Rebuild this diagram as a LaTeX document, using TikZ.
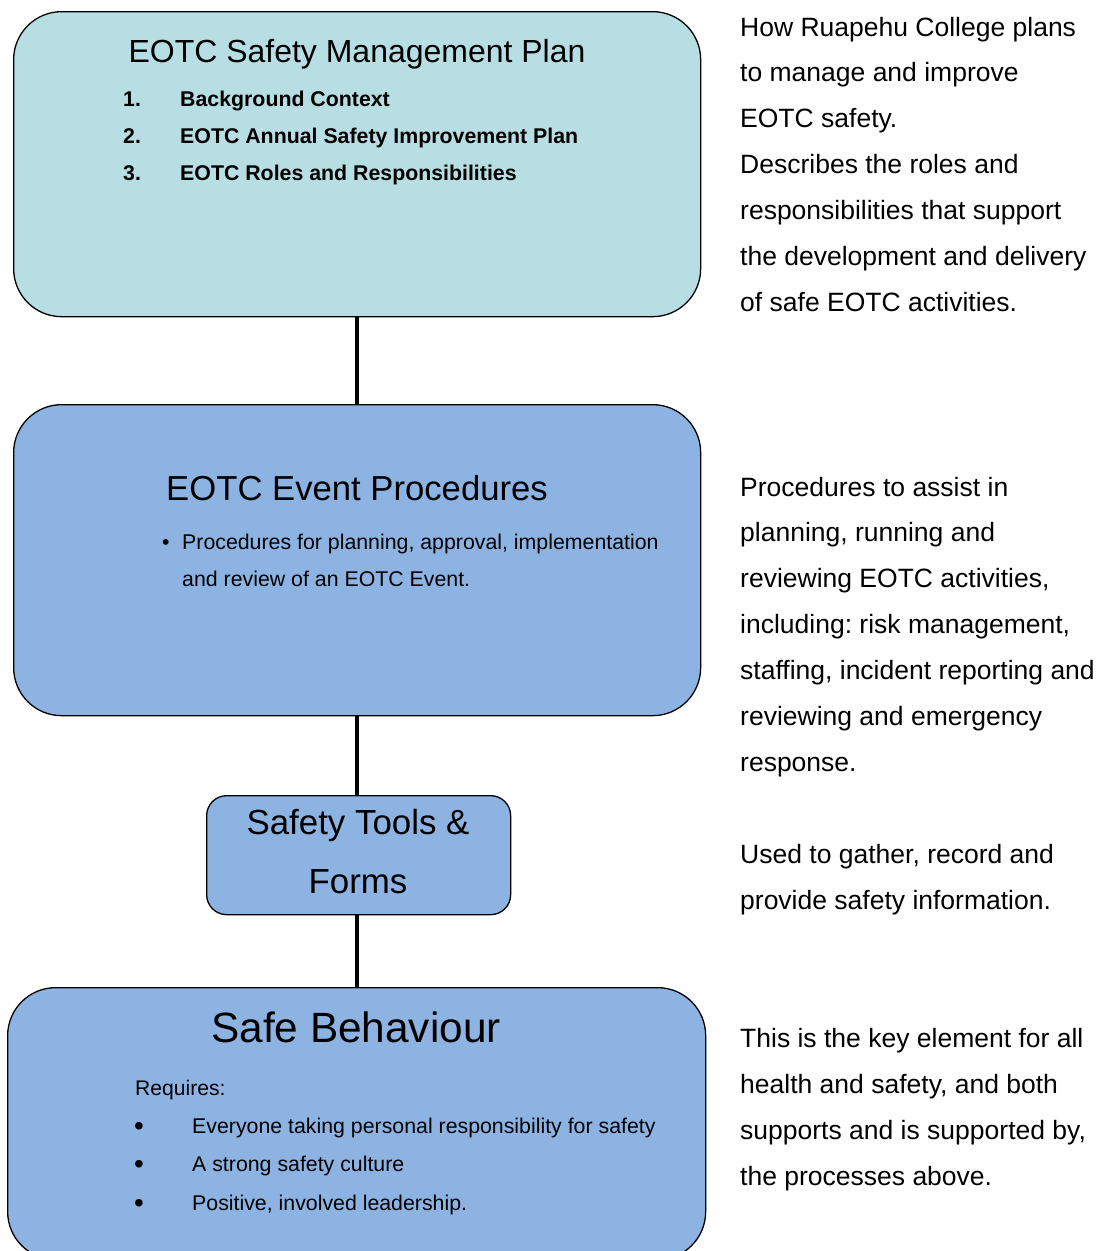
\documentclass[tikz,border=0pt]{standalone}
\usepackage{fontspec}
\setmainfont{Liberation Sans}
\frenchspacing
\usetikzlibrary{positioning}
\definecolor{planfill}{HTML}{B7DEE3}
\definecolor{procfill}{HTML}{8DB3E2}

\tikzset{
  stage/.style={draw=black, line width=1.3bp, rounded corners=#1, inner sep=0pt, anchor=north west},
  link/.style={line width=4bp},
  heading/.style={anchor=base, inner sep=0pt},
  entry/.style={anchor=base west, inner sep=0pt, align=left},
  note/.style={entry, font=\fontsize{26.6}{46}\selectfont},
}

\begin{document}
\begin{tikzpicture}[x=1bp, y=-1bp]
\useasboundingbox (0,0) rectangle (1105,1251);
%boxes
\node[stage=48bp, fill=planfill, minimum width=687bp, minimum height=305bp] (plan) at (13,11) {};
\node[stage=48bp, fill=procfill, minimum width=687bp, minimum height=311bp] (proc) at (13,404) {};
\node[stage=20bp, fill=procfill, minimum width=304bp, minimum height=119bp] (tools) at (206,795) {};
\node[stage=48bp, fill=procfill, minimum width=698bp, minimum height=272bp] (behav) at (7,987) {};
%links
\draw[link] (plan.south) -- (plan.south |- proc.north);
\draw[link] (plan.south |- proc.south) -- (plan.south |- tools.north);
\draw[link] (plan.south |- tools.south) -- (plan.south |- behav.north);
%plan text (multi-line nodes sit on their last baseline)
\node[heading, font=\fontsize{32.1}{37}\selectfont] (plantitle) at (357,62) {EOTC Safety Management Plan};
\node[entry, font=\fontsize{21.4}{37}\bfseries] (plannum) at (123,180) {1.\\2.\\3.};
\node[entry, font=\fontsize{21.4}{37}\bfseries] (planlist) at (180,180) {Background Context\\EOTC Annual Safety Improvement Plan\\EOTC Roles and Responsibilities};
%procedures text
\node[heading, font=\fontsize{34.8}{40}\selectfont] (proctitle) at (357,500) {EOTC Event Procedures};
\node[entry, font=\fontsize{21.4}{37}\selectfont] (procdot) at (162,549) {\textbullet};
\node[entry, font=\fontsize{21.4}{37}\selectfont] (proclist) at (182,586) {Procedures for planning, approval, implementation\\and review of an EOTC Event.};
%tools text
\node[heading, align=center, font=\fontsize{35}{59}\selectfont] (toolstitle) at (358,893) {Safety Tools \&\\Forms};
%behaviour text
\node[heading, font=\fontsize{42.5}{48}\selectfont] (behavtitle) at (356,1042) {Safe Behaviour};
\node[entry, font=\fontsize{21.2}{38.5}\selectfont] (behavreq) at (135,1095) {Requires:};
\node[entry, font=\fontsize{28}{38.5}\selectfont] (behavdot) at (134,1212) {\textbullet\\\textbullet\\\textbullet};
\node[entry, font=\fontsize{21.4}{38.5}\selectfont] (behavlist) at (192,1210) {Everyone taking personal responsibility for safety\\A strong safety culture\\Positive, involved leadership.};
%notes on the right
\node[note] (plannote) at (740,311) {How Ruapehu College plans\\to manage and improve\\EOTC safety.\\Describes the roles and\\responsibilities that support\\the development and delivery\\of safe EOTC activities.};
\node[note] (procnote) at (740,771) {Procedures to assist in\\planning, running and\\reviewing EOTC activities,\\including: risk management,\\staffing, incident reporting and\\reviewing and emergency\\response.};
\node[note] (toolsnote) at (740,909) {Used to gather, record and\\provide safety information.};
\node[note] (behavnote) at (740,1185) {This is the key element for all\\health and safety, and both\\supports and is supported by,\\the processes above.};
\end{tikzpicture}
\end{document}
